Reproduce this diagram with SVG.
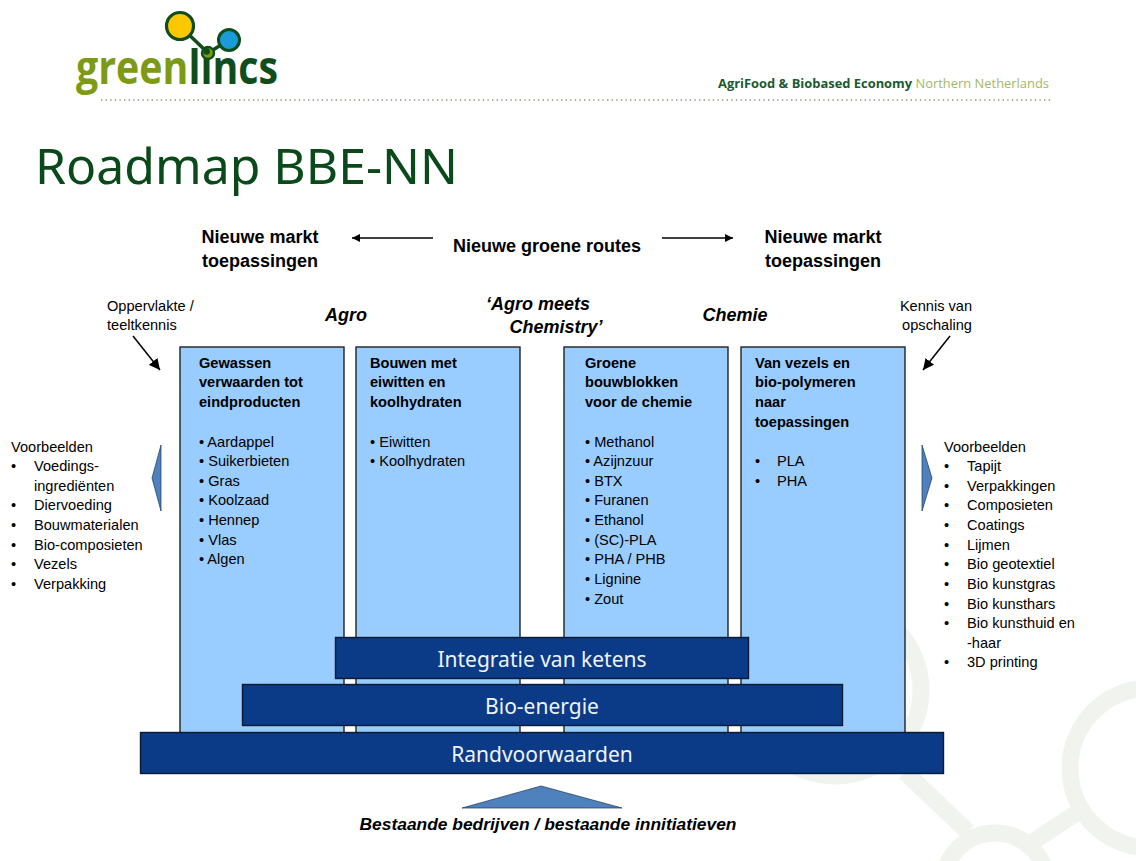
<svg xmlns="http://www.w3.org/2000/svg" width="1136" height="861" viewBox="0 0 1136 861">
<defs>
<marker id="ah" viewBox="0 0 10 10" refX="10" refY="5" markerWidth="8" markerHeight="8" markerUnits="userSpaceOnUse" orient="auto"><path d="M0 0L10 5L0 10z" fill="#000"/></marker>
<marker id="ah2" viewBox="0 0 10 10" refX="10" refY="5" markerWidth="11" markerHeight="11" markerUnits="userSpaceOnUse" orient="auto"><path d="M0 0L10 5L0 10z" fill="#000"/></marker>
</defs>
<style>
text{font-family:"Liberation Sans",Arial,sans-serif;fill:#000}
.s{font-size:14.6px}
.b{font-size:14.6px;font-weight:bold}
.h{font-size:18px;font-weight:bold}
.i{font-size:18px;font-weight:bold;font-style:italic}
.panel{fill:#99ccff;stroke:#222;stroke-width:1.4}
.bar{fill:#0b3a87;stroke:#0a1a33;stroke-width:1.4}
.bt{font-family:"Noto Sans","Open Sans",sans-serif;font-size:21px;fill:#eef3fa;text-anchor:middle}
.tri{fill:#4f81bd;stroke:#17375e;stroke-width:.7}
.wm{fill:none;stroke:#f1f3ef;stroke-width:17}
.con{stroke:#000;stroke-width:1.5;fill:none}
</style>
<rect width="1136" height="861" fill="#fff"/>
<g id="watermark">
<circle class="wm" cx="835" cy="690" r="86"/>
<circle class="wm" cx="995" cy="885" r="52"/>
<circle class="wm" cx="1150" cy="768" r="80"/>
<path class="wm" d="M905 772L968 832M1028 845L1078 812"/>
</g>
<g id="logo">
<path d="M180 26L208 53L229 40" stroke="#0f4d1c" stroke-width="3.5" fill="none"/>
<circle cx="180" cy="26" r="13.5" fill="#fbc800" stroke="#0f4d1c" stroke-width="3.2"/>
<circle cx="229" cy="40" r="10.5" fill="#1b9cd8" stroke="#0f4d1c" stroke-width="3"/>
<circle cx="208" cy="53" r="6" fill="#7d9a14" stroke="#0f4d1c" stroke-width="2.4"/>
<text x="76" y="84" font-size="46" font-weight="bold" textLength="202" lengthAdjust="spacingAndGlyphs" style="font-family:'Open Sans',sans-serif;fill:#7d9a14">green<tspan style="fill:#0f4d1c">lincs</tspan></text>
<path d="M101 100H1050" stroke="#8a9a80" stroke-width="1.4" stroke-dasharray="1.4 3.2" fill="none"/>
<text x="718" y="88" font-size="12.5" font-weight="bold" textLength="331" lengthAdjust="spacingAndGlyphs" style="font-family:'Open Sans',sans-serif;fill:#1a5a30">AgriFood &amp; Biobased Economy <tspan font-weight="normal" style="fill:#a3b768">Northern Netherlands</tspan></text>
</g>
<text id="title" x="35" y="184" font-size="50" textLength="423" lengthAdjust="spacingAndGlyphs" style="font-family:'Noto Sans',sans-serif;fill:#0a4a1a">Roadmap BBE-NN</text>
<g id="connectors">
<path class="con" d="M433 238H352" marker-end="url(#ah)"/>
<path class="con" d="M662 238H733" marker-end="url(#ah)"/>
<path class="con" d="M133 336L160 370" marker-end="url(#ah2)"/>
<path class="con" d="M950 336L923 370" marker-end="url(#ah2)"/>
</g>
<g id="top-labels">
<text class="h" x="260" y="243" text-anchor="middle">Nieuwe markt</text>
<text class="h" x="260" y="267" text-anchor="middle">toepassingen</text>
<text class="h" x="547" y="252" text-anchor="middle">Nieuwe groene routes</text>
<text class="h" x="823" y="243" text-anchor="middle">Nieuwe markt</text>
<text class="h" x="823" y="267" text-anchor="middle">toepassingen</text>
<text class="i" x="346" y="321" text-anchor="middle">Agro</text>
<text class="i" x="538" y="310" text-anchor="middle">‘Agro  meets</text>
<text class="i" x="556" y="333" text-anchor="middle">Chemistry’</text>
<text class="i" x="735" y="321" text-anchor="middle">Chemie</text>
<text class="s" x="107" y="311">Oppervlakte /</text>
<text class="s" x="107" y="330">teeltkennis</text>
<text class="s" x="936" y="311" text-anchor="middle">Kennis van</text>
<text class="s" x="937" y="330" text-anchor="middle">opschaling</text>
</g>
<g id="panel-agro">
<rect class="panel" x="180" y="347" width="164" height="392"/>
<text class="b" x="199" y="368">Gewassen</text><text class="b" x="199" y="387">verwaarden tot</text><text class="b" x="199" y="407">eindproducten</text>
<text class="s" x="199" y="447">• Aardappel</text><text class="s" x="199" y="466">• Suikerbieten</text><text class="s" x="199" y="486">• Gras</text><text class="s" x="199" y="505">• Koolzaad</text><text class="s" x="199" y="525">• Hennep</text><text class="s" x="199" y="545">• Vlas</text><text class="s" x="199" y="564">• Algen</text>
</g>
<g id="panel-bouwen">
<rect class="panel" x="356" y="347" width="164" height="392"/>
<text class="b" x="370" y="368">Bouwen met</text><text class="b" x="370" y="387">eiwitten en</text><text class="b" x="370" y="407">koolhydraten</text>
<text class="s" x="370" y="447">• Eiwitten</text><text class="s" x="370" y="466">• Koolhydraten</text>
</g>
<g id="panel-groene">
<rect class="panel" x="564" y="347" width="164" height="392"/>
<text class="b" x="585" y="368">Groene</text><text class="b" x="585" y="387">bouwblokken</text><text class="b" x="585" y="407">voor de chemie</text>
<text class="s" x="585" y="447">• Methanol</text><text class="s" x="585" y="466">• Azijnzuur</text><text class="s" x="585" y="486">• BTX</text><text class="s" x="585" y="505">• Furanen</text><text class="s" x="585" y="525">• Ethanol</text><text class="s" x="585" y="545">• (SC)-PLA</text><text class="s" x="585" y="564">• PHA / PHB</text><text class="s" x="585" y="584">• Lignine</text><text class="s" x="585" y="604">• Zout</text>
</g>
<g id="panel-vezels">
<rect class="panel" x="741" y="347" width="164" height="392"/>
<text class="b" x="755" y="368">Van vezels en</text><text class="b" x="755" y="387">bio-polymeren</text><text class="b" x="755" y="407">naar</text><text class="b" x="755" y="427">toepassingen</text>
<text class="s" x="755" y="466">•</text><text class="s" x="777" y="466">PLA</text><text class="s" x="755" y="486">•</text><text class="s" x="777" y="486">PHA</text>
</g>
<g id="bar-integratie"><rect class="bar" x="335.500" y="637.500" width="413" height="41"/><text class="bt" x="542" y="667">Integratie van ketens</text></g>
<g id="bar-bioenergie"><rect class="bar" x="242.500" y="684.500" width="600" height="41"/><text class="bt" x="542" y="714">Bio-energie</text></g>
<g id="bar-rand"><rect class="bar" x="140.500" y="732.500" width="803" height="41"/><text class="bt" x="542" y="762">Randvoorwaarden</text></g>
<g id="tri-left"><path class="tri" d="M161 445V511L152 478z"/></g>
<g id="tri-right"><path class="tri" d="M922 445V511L932 478z"/></g>
<g id="tri-bottom"><path class="tri" d="M462 808L541 786L622 808z"/></g>
<text id="bottom-label" x="548" y="830" font-size="17.400" font-weight="bold" font-style="italic" text-anchor="middle">Bestaande bedrijven / bestaande innitiatieven</text>
<g id="left-list">
<text class="s" x="11" y="452">Voorbeelden</text>
<text class="s" x="11" y="471">•</text><text class="s" x="34" y="471">Voedings-</text><text class="s" x="34" y="491">ingrediënten</text>
<text class="s" x="11" y="510">•</text><text class="s" x="34" y="510">Diervoeding</text>
<text class="s" x="11" y="530">•</text><text class="s" x="34" y="530">Bouwmaterialen</text>
<text class="s" x="11" y="550">•</text><text class="s" x="34" y="550">Bio-composieten</text>
<text class="s" x="11" y="569">•</text><text class="s" x="34" y="569">Vezels</text>
<text class="s" x="11" y="589">•</text><text class="s" x="34" y="589">Verpakking</text>
</g>
<g id="right-list">
<text class="s" x="944" y="452">Voorbeelden</text>
<text class="s" x="944" y="471">•</text><text class="s" x="967" y="471">Tapijt</text>
<text class="s" x="944" y="491">•</text><text class="s" x="967" y="491">Verpakkingen</text>
<text class="s" x="944" y="510">•</text><text class="s" x="967" y="510">Composieten</text>
<text class="s" x="944" y="530">•</text><text class="s" x="967" y="530">Coatings</text>
<text class="s" x="944" y="550">•</text><text class="s" x="967" y="550">Lijmen</text>
<text class="s" x="944" y="569">•</text><text class="s" x="967" y="569">Bio geotextiel</text>
<text class="s" x="944" y="589">•</text><text class="s" x="967" y="589">Bio kunstgras</text>
<text class="s" x="944" y="609">•</text><text class="s" x="967" y="609">Bio kunsthars</text>
<text class="s" x="944" y="628">•</text><text class="s" x="967" y="628">Bio kunsthuid en</text><text class="s" x="967" y="648">-haar</text>
<text class="s" x="944" y="667">•</text><text class="s" x="967" y="667">3D printing</text>
</g>
</svg>
